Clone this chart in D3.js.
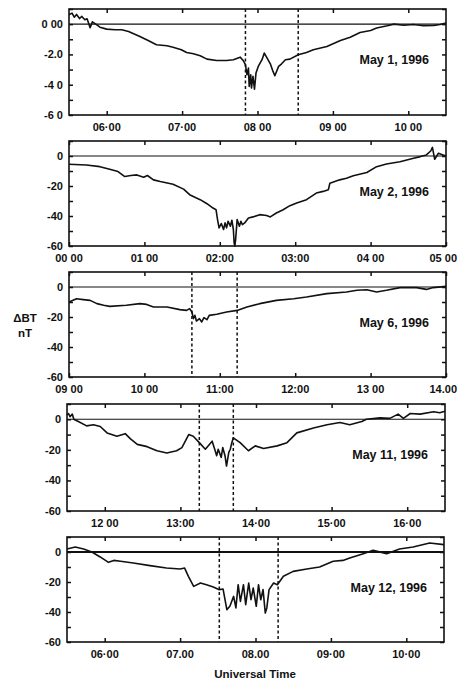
<!DOCTYPE html>
<html>
<head>
<meta charset="utf-8">
<script src="https://cdn.jsdelivr.net/npm/d3@7"></script>
<style>
  body { margin: 0; background: #fff; }
  text { font-family: "Liberation Sans", Arial, sans-serif; font-weight: bold; fill: #111; }
</style>
</head>
<body>
<svg id="chart" width="458" height="682"></svg>
<script>
// Dates of the five events
const dates = ["May 1, 1996", "May 2, 1996", "May 6, 1996", "May 11, 1996", "May 12, 1996"];

// Time windows (UT hours)
const windows = [[5.5, 10.5], [0, 5], [9, 14], [11.5, 16.5], [5.5, 10.5]];

// Hour ticks and labels as printed
const xTicks = [
  [6, 7, 8, 9, 10],
  [0, 1, 2, 3, 4, 5],
  [9, 10, 11, 12, 13, 14],
  [12, 13, 14, 15, 16],
  [6, 7, 8, 9, 10]
];
const xTickLabels = [
  ["06·00", "07·00", "08 00", "09 00", "10 00"],
  ["00 00", "01 00", "02:00", "03:00", "04 00", "05 00"],
  ["09 00", "10 00", "11:00", "12:00", "13 00", "14.00"],
  ["12 00", "13:00", "14·00", "15·00", "16·00"],
  ["06·00", "07.00", "08.00", "09·00", "10·00"]
];
const yTicks = [0, -20, -40, -60];
const yTickLabels = [
  ["0 00", "-2.0", "-4 0", "-6 0"],
  ["0", "-20", "-40", "-60"],
  ["0", "-20", "-40", "-60"],
  ["0", "-20", "-40", "-60"],
  ["0", "-20", "-40", "-60"]
];

// dashed markers (UT hours)
const markers = [[7.84, 8.54], [], [10.63, 11.23], [13.25, 13.70], [7.52, 8.30]];

// ΔBT (nT) series
const may1Time = [5.50,5.54,5.57,5.60,5.64,5.67,5.71,5.74,5.78,5.81,5.86,5.91,6.00,6.11,6.20,6.29,6.44,6.55,6.66,6.80,6.88,6.99,7.06,7.15,7.24,7.33,7.46,7.59,7.68,7.77,7.81,7.84,7.86,7.88,7.89,7.91,7.92,7.94,7.96,7.98,8.01,8.06,8.09,8.12,8.17,8.20,8.23,8.28,8.32,8.37,8.43,8.54,8.65,8.74,8.92,9.10,9.23,9.36,9.50,9.58,9.72,9.81,9.94,10.07,10.20,10.34,10.42,10.50];
const may1Val  = [6.2,7.3,4.6,6.4,3.7,5.1,2.9,3.5,-2.4,1.5,-0.2,-2.0,-3.3,-3.7,-3.7,-4.8,-8.1,-10.8,-13.6,-14.3,-15.2,-16.9,-18.7,-19.6,-20.9,-23.1,-24.0,-24.0,-23.5,-21.8,-24.0,-26.8,-33.4,-29.0,-41.1,-33.4,-42.2,-34.5,-42.9,-32.3,-27.9,-23.5,-19.1,-21.8,-26.2,-30.5,-34.1,-27.9,-26.2,-23.5,-23.1,-20.2,-18.7,-16.9,-14.7,-10.8,-8.6,-5.5,-4.2,-2.6,-1.1,0,-0.7,-0.2,-1.1,-0.9,-0.2,0.7];

const may2Time = [0.00,0.23,0.41,0.54,0.65,0.74,0.82,0.90,0.99,1.04,1.12,1.21,1.38,1.52,1.60,1.69,1.74,1.83,1.91,1.95,1.97,1.99,2.02,2.05,2.07,2.09,2.11,2.14,2.16,2.18,2.19,2.20,2.21,2.23,2.26,2.28,2.30,2.33,2.38,2.44,2.53,2.62,2.67,2.75,2.84,2.93,3.02,3.15,3.28,3.37,3.44,3.46,3.59,3.68,3.77,3.95,4.08,4.21,4.39,4.57,4.66,4.74,4.80,4.82,4.85,4.90,4.96,5.00];
const may2Val  = [-5.5,-6.0,-7.1,-8.8,-10.4,-13.7,-13.0,-12.6,-14.1,-13.0,-15.9,-17.0,-18.8,-22.1,-25.8,-28.0,-29.1,-31.8,-34.7,-35.8,-42.4,-47.9,-45.0,-49.0,-44.6,-47.9,-43.5,-46.8,-42.8,-49.0,-57.8,-60.0,-55.6,-42.4,-46.8,-43.5,-45.7,-44.6,-41.3,-40.6,-39.1,-39.7,-40.6,-38.0,-35.8,-33.1,-31.3,-29.1,-24.7,-23.6,-22.5,-18.1,-15.9,-14.8,-13.2,-11.0,-7.1,-5.3,-3.8,-1.5,-0.4,0.7,3.5,5.7,-2.2,1.8,0.7,0.0];

const may6Time = [9.00,9.10,9.19,9.28,9.37,9.46,9.54,9.76,9.94,10.03,10.12,10.30,10.47,10.56,10.60,10.63,10.65,10.67,10.69,10.73,10.76,10.79,10.83,10.86,10.96,11.09,11.23,11.36,11.53,11.75,11.98,12.15,12.42,12.68,12.82,12.95,13.08,13.21,13.39,13.61,13.74,13.83,14.00];
const may6Val  = [-10.0,-7.8,-8.4,-8.9,-11.1,-12.2,-12.9,-12.2,-11.1,-11.6,-13.3,-13.3,-15.1,-15.6,-14.4,-16.7,-21.1,-18.9,-22.7,-21.1,-23.3,-20.4,-21.8,-18.9,-18.2,-16.7,-15.6,-13.3,-11.1,-8.9,-7.8,-6.7,-4.4,-3.3,-2.2,-1.8,-3.3,-2.2,-0.4,-0.4,-1.6,-0.4,0.4];

const may11Time = [11.50,11.52,11.54,11.57,11.59,11.65,11.76,11.85,11.94,12.03,12.16,12.27,12.34,12.43,12.56,12.69,12.82,12.95,13.02,13.11,13.17,13.25,13.33,13.42,13.46,13.48,13.50,13.54,13.56,13.59,13.61,13.64,13.66,13.68,13.70,13.79,13.90,13.99,14.10,14.28,14.41,14.54,14.76,14.94,15.11,15.24,15.40,15.46,15.64,15.77,15.88,15.95,16.04,16.17,16.35,16.43,16.50];
const may11Val  = [2.8,3.8,1.7,3.4,0.0,-1.5,-4.3,-3.6,-4.7,-8.9,-11.1,-9.4,-12.8,-16.4,-17.9,-20.6,-22.1,-20.6,-18.5,-10.0,-11.1,-15.3,-19.6,-14.3,-20.6,-23.8,-19.6,-24.9,-18.5,-23.8,-30.6,-21.7,-19.6,-15.3,-12.1,-15.3,-20.6,-17.4,-19.1,-17.4,-15.3,-8.9,-5.7,-3.6,-2.1,-3.6,-1.5,0.0,0.9,0.6,3.4,0.6,3.8,3.4,4.9,4.3,5.3];

const may12Time = [5.50,5.61,5.72,5.83,5.94,6.05,6.12,6.21,6.38,6.60,6.82,7.00,7.06,7.11,7.18,7.27,7.35,7.44,7.52,7.57,7.62,7.66,7.71,7.74,7.77,7.80,7.84,7.87,7.91,7.94,7.97,8.01,8.04,8.07,8.10,8.13,8.15,8.18,8.24,8.29,8.37,8.50,8.68,8.85,9.03,9.16,9.25,9.43,9.56,9.74,9.91,10.09,10.31,10.50];
const may12Val  = [2.0,3.3,2.0,0.0,-3.3,-6.9,-5.6,-6.2,-7.3,-9.1,-10.7,-11.3,-10.7,-16.2,-22.9,-20.7,-21.8,-23.3,-25.1,-24.7,-38.4,-36.2,-29.6,-37.3,-21.8,-32.9,-21.8,-35.1,-20.7,-31.8,-24.0,-36.2,-21.8,-31.8,-25.1,-40.7,-37.3,-25.1,-20.7,-21.8,-16.2,-12.9,-11.3,-10.0,-6.2,-5.6,-4.0,-1.1,1.1,-1.1,2.0,3.3,6.0,4.9];

const seriesTime = [may1Time, may2Time, may6Time, may11Time, may12Time];
const seriesVal = [may1Val, may2Val, may6Val, may11Val, may12Val];

// Panel frames in pixels
const frames = [
  { left: 69, right: 446, top: 9,   bottom: 115 },
  { left: 69, right: 446, top: 141, bottom: 246 },
  { left: 69, right: 446, top: 272, bottom: 377 },
  { left: 67, right: 445, top: 404, bottom: 511 },
  { left: 67, right: 444, top: 537, bottom: 642 }
];

const svg = d3.select("#chart");

frames.forEach((f, i) => {
  const x = d3.scaleLinear().domain(windows[i]).range([f.left, f.right]);
  const y = d3.scaleLinear().domain([-60, 10]).range([f.bottom, f.top]);
  const g = svg.append("g");

  // zero line
  g.append("line")
    .attr("x1", f.left).attr("x2", f.right)
    .attr("y1", y(0)).attr("y2", y(0))
    .attr("stroke", "#111").attr("stroke-width", i === 4 ? 1.8 : 1.1);

  // dashed markers
  markers[i].forEach(m => {
    g.append("line")
      .attr("x1", x(m)).attr("x2", x(m))
      .attr("y1", f.top).attr("y2", f.bottom)
      .attr("stroke", "#111").attr("stroke-width", 1.5)
      .attr("stroke-dasharray", "3,2.5");
  });

  // data line
  const pts = seriesTime[i].map((t, k) => [t, seriesVal[i][k]]);
  g.append("path")
    .datum(pts)
    .attr("fill", "none")
    .attr("stroke", "#111")
    .attr("stroke-width", 1.6)
    .attr("stroke-linejoin", "round")
    .attr("d", d3.line().x(d => x(d[0])).y(d => y(d[1])));

  // axes with inward ticks
  const minor = d3.range(-60, 11, 10);
  g.append("g").attr("transform", `translate(${f.left},0)`)
    .call(d3.axisRight(y).tickValues(minor).tickSize(4).tickFormat(""));
  g.append("g").attr("transform", `translate(${f.right},0)`)
    .call(d3.axisLeft(y).tickValues(minor).tickSize(4).tickFormat(""));
  g.append("g").attr("transform", `translate(0,${f.top})`)
    .call(d3.axisBottom(x).tickValues(xTicks[i]).tickSize(4).tickFormat(""));
  g.append("g").attr("transform", `translate(0,${f.bottom})`)
    .call(d3.axisTop(x).tickValues(xTicks[i]).tickSize(4).tickFormat(""));
  g.selectAll(".domain").remove();
  g.selectAll(".tick line").attr("stroke", "#111").attr("stroke-width", 1.5);

  // frame
  g.append("rect")
    .attr("x", f.left).attr("y", f.top)
    .attr("width", f.right - f.left).attr("height", f.bottom - f.top)
    .attr("fill", "none").attr("stroke", "#111").attr("stroke-width", 1.6);

  // tick labels
  yTicks.forEach((v, k) => {
    g.append("text")
      .attr("x", f.left - 6).attr("y", y(v))
      .attr("dy", "0.35em")
      .attr("text-anchor", "end")
      .attr("font-size", 11)
      .text(yTickLabels[i][k]);
  });
  xTicks[i].forEach((t, k) => {
    const last = k === xTicks[i].length - 1 && t === windows[i][1];
    g.append("text")
      .attr("x", last ? 457 : x(t)).attr("y", f.bottom + 16)
      .attr("text-anchor", last ? "end" : "middle")
      .attr("font-size", 11)
      .text(xTickLabels[i][k]);
  });

  // date label
  g.append("text")
    .attr("x", f.right - 17).attr("y", f.top + 55)
    .attr("text-anchor", "end")
    .attr("font-size", 12.5)
    .text(dates[i]);
});

// y axis title
svg.append("text").attr("x", 25).attr("y", 322)
  .attr("text-anchor", "middle").attr("font-size", 11.5).text("ΔBT");
svg.append("text").attr("x", 25).attr("y", 337)
  .attr("text-anchor", "middle").attr("font-size", 11.5).text("nT");

// x axis title
svg.append("text").attr("x", 255).attr("y", 678)
  .attr("text-anchor", "middle").attr("font-size", 11.5).text("Universal Time");
</script>
</body>
</html>
